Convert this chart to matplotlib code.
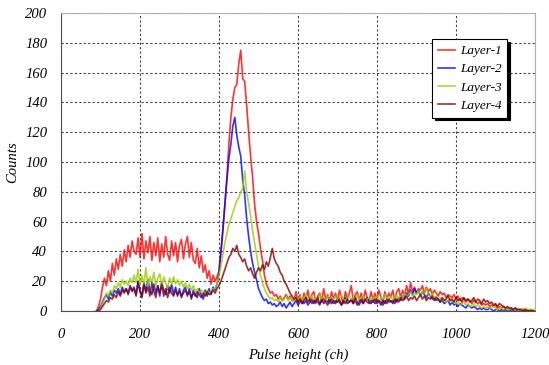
import numpy as np
import matplotlib
matplotlib.use("Agg")
import matplotlib.pyplot as plt

# channels sampled every 5 ch from 90 to 1200
channels = np.arange(90, 1201, 5)

layer1 = [
    0, 3, 8, 16, 22, 17, 27, 20, 32, 24, 35, 28, 38, 30, 41, 33, 44, 36, 47, 40,
    38, 49, 36, 52, 35, 47, 39, 50, 34, 46, 37, 49, 33, 45, 36, 50, 38, 34, 47, 37,
    46, 33, 44, 48, 35, 45, 50, 36, 46, 34, 32, 42, 29, 37, 26, 31, 22, 27, 18, 24,
    20, 23, 27, 40, 55, 72, 90, 112, 130, 142, 150, 152, 166, 175, 156, 154, 138, 120, 104, 90,
    72, 60, 52, 42, 34, 24, 18, 15, 12, 13, 10, 11, 8, 10, 7, 9, 11, 8, 10, 7,
    7, 13, 6, 11, 5, 12, 8, 14, 6, 11, 13, 5, 10, 12, 6, 15, 8, 11, 5, 13,
    8, 12, 6, 14, 9, 5, 13, 8, 12, 17, 6, 11, 13, 7, 12, 6, 14, 9, 7, 13,
    7, 12, 8, 14, 9, 6, 13, 8, 12, 9, 14, 7, 13, 15, 9, 14, 10, 17, 11, 19,
    13, 16, 12, 15, 14, 17, 12, 16, 13, 15, 11, 14, 12, 10, 13, 11, 12, 9, 11, 10,
    9, 11, 8, 10, 7, 9, 8, 6, 8, 7, 5, 7, 6, 5, 6, 4, 5, 4, 5, 3,
    4, 3, 4, 2, 3, 2, 3, 2, 2, 1, 2, 1, 2, 1, 1, 1, 1, 0, 1, 0,
    1, 0, 0,
]
layer2 = [
    0, 1, 3, 6, 9, 11, 8, 13, 10, 14, 12, 15, 11, 16, 13, 15, 12, 17, 14, 16,
    11, 20, 14, 10, 19, 13, 21, 14, 11, 18, 12, 17, 10, 19, 14, 11, 17, 12, 18, 11,
    16, 10, 15, 9, 14, 16, 10, 15, 8, 14, 11, 9, 15, 11, 8, 14, 10, 15, 11, 16,
    14, 18, 26, 40, 55, 72, 88, 102, 112, 124, 130, 118, 110, 104, 88, 78, 62, 50, 40, 32,
    26, 21, 15, 12, 9, 7, 8, 5, 6, 4, 5, 3, 4, 6, 3, 5, 2, 4, 6, 3,
    5, 7, 4, 6, 8, 5, 7, 4, 6, 8, 5, 7, 6, 4, 8, 5, 7, 6, 9, 5,
    7, 5, 8, 6, 4, 7, 9, 5, 6, 8, 5, 7, 4, 6, 8, 5, 7, 9, 6, 5,
    7, 5, 8, 6, 4, 7, 5, 8, 6, 7, 5, 8, 6, 9, 7, 10, 8, 12, 10, 14,
    11, 15, 12, 14, 10, 13, 11, 9, 12, 10, 8, 9, 7, 8, 6, 7, 5, 6, 7, 4,
    6, 4, 5, 3, 5, 4, 3, 2, 4, 3, 2, 3, 2, 1, 2, 1, 2, 1, 1, 2,
    1, 0, 1, 1, 0, 1, 0, 1, 0, 0, 1, 0, 0, 1, 0, 0, 0, 0, 0, 0,
    0, 0, 0,
]
layer3 = [
    0, 0, 2, 5, 8, 12, 10, 14, 12, 17, 15, 19, 16, 21, 18, 20, 17, 22, 19, 24,
    19, 28, 17, 24, 18, 29, 16, 23, 19, 26, 17, 22, 25, 16, 23, 19, 15, 22, 18, 23,
    18, 21, 17, 20, 16, 19, 15, 18, 14, 17, 13, 15, 12, 14, 13, 11, 14, 12, 13, 15,
    15, 18, 24, 30, 38, 46, 52, 58, 62, 66, 70, 74, 76, 80, 82, 94, 80, 72, 64, 54,
    46, 38, 30, 24, 19, 15, 12, 10, 8, 9, 7, 8, 6, 9, 7, 8, 10, 7, 9, 8,
    7, 9, 8, 10, 7, 9, 11, 8, 7, 10, 8, 9, 7, 11, 8, 9, 7, 10, 8, 9,
    8, 10, 7, 9, 11, 8, 7, 9, 10, 8, 9, 7, 11, 8, 9, 10, 7, 8, 9, 7,
    9, 8, 10, 7, 9, 8, 11, 9, 7, 10, 8, 9, 11, 8, 10, 9, 12, 10, 11, 13,
    10, 12, 11, 14, 10, 13, 12, 15, 11, 10, 12, 9, 10, 8, 9, 7, 8, 6, 7, 8,
    6, 7, 5, 6, 4, 5, 6, 4, 5, 3, 4, 5, 3, 4, 3, 2, 3, 2, 3, 2,
    2, 3, 2, 1, 2, 2, 1, 2, 1, 1, 2, 1, 1, 1, 0, 1, 1, 2, 1, 1,
    1, 1, 0,
]
layer4 = [
    0, 0, 1, 3, 5, 7, 6, 9, 8, 11, 9, 13, 10, 14, 12, 15, 11, 16, 13, 15,
    10, 19, 13, 9, 18, 12, 16, 10, 19, 13, 9, 17, 12, 18, 10, 15, 9, 16, 12, 10,
    14, 11, 13, 10, 12, 14, 11, 13, 9, 12, 10, 13, 11, 9, 12, 10, 13, 11, 12, 14,
    12, 15, 17, 20, 24, 28, 32, 36, 38, 42, 40, 44, 38, 36, 33, 35, 30, 27, 29, 25,
    22, 26, 29, 27, 31, 28, 33, 30, 36, 42, 35, 32, 30, 26, 24, 20, 18, 15, 12, 10,
    8, 9, 6, 8, 5, 7, 9, 6, 8, 5, 7, 6, 9, 5, 7, 8, 6, 4, 7, 8,
    5, 7, 6, 8, 4, 7, 5, 8, 6, 7, 5, 9, 6, 4, 7, 5, 8, 6, 5, 7,
    6, 8, 5, 7, 6, 4, 7, 5, 8, 6, 7, 5, 8, 6, 9, 7, 8, 10, 7, 9,
    8, 10, 7, 9, 11, 8, 10, 7, 9, 8, 10, 7, 9, 8, 6, 9, 7, 8, 10, 7,
    8, 6, 9, 7, 8, 6, 9, 7, 8, 6, 7, 9, 6, 8, 7, 5, 8, 6, 7, 5,
    6, 4, 5, 3, 5, 4, 3, 2, 3, 2, 2, 1, 2, 1, 1, 1, 0, 1, 0, 0,
    0, 0, 0,
]

labels = ["Layer-1", "Layer-2", "Layer-3", "Layer-4"]
colors = ["#ff0000", "#0000ff", "#99cc00", "#800000"]

plt.rcParams['font.family'] = ['Liberation Serif', 'DejaVu Serif']
plt.rcParams['font.style'] = 'italic'

fig = plt.figure(figsize=(5.49, 3.65), dpi=100)
ax = fig.add_axes([61 / 549, 54 / 365, 474 / 549, 298 / 365])

for ys, lab, c in zip([layer1, layer2, layer3, layer4], labels, colors):
    ax.plot(channels, ys, color=c, lw=1.2, alpha=0.8, label=lab)

ax.set_xlim(0, 1200)
ax.set_ylim(0, 200)
ax.set_xticks(np.arange(0, 1201, 200))
ax.set_yticks(np.arange(0, 201, 20))
ax.grid(True, color="#404040", ls=(0, (2, 2)), lw=0.8)
ax.tick_params(length=0, labelsize=10.5)
ax.tick_params(axis='x', pad=12)
ax.tick_params(axis='y', pad=10)
for s in ["left", "bottom"]:
    ax.spines[s].set_color("#505050")
for s in ["top", "right"]:
    ax.spines[s].set_color("#b0b0b0")

ax.set_xlabel("Pulse height (ch)", fontsize=10.5, labelpad=6)
ax.set_ylabel("Counts", fontsize=10.5, labelpad=4)

leg = ax.legend(loc="upper left", bbox_to_anchor=(432 / 549, 1 - 39 / 365),
                bbox_transform=fig.transFigure, borderaxespad=0,
                fancybox=False, shadow={'ox': 2, 'oy': -2, 'color': 'black', 'alpha': 1},
                edgecolor="black", fontsize=9.5, handlelength=1.3,
                handletextpad=0.35, labelspacing=0.45, borderpad=0.45,
                framealpha=1)
leg.get_frame().set_linewidth(0.8)

fig.savefig("out.png", dpi=100)
